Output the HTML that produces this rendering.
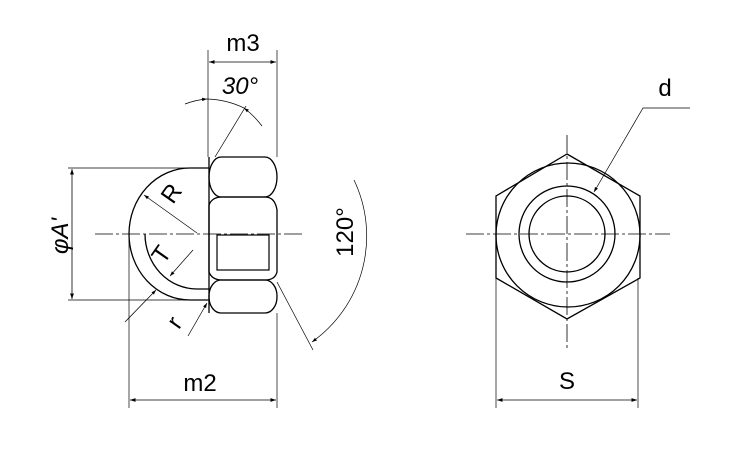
<!DOCTYPE html>
<html><head><style>html,body{margin:0;padding:0;background:#fff}svg{display:block}</style></head>
<body>
<svg width="750" height="450" viewBox="0 0 750 450" xmlns="http://www.w3.org/2000/svg" font-family="Liberation Sans, sans-serif">
<defs>
<marker id="a" viewBox="0 0 10 10" refX="10" refY="5" markerWidth="7" markerHeight="7" orient="auto-start-reverse"><path d="M0,1.5 L10,5 L0,8.5 Z" fill="#000"/></marker>
</defs>
<g fill="none" stroke="#000" stroke-width="1">
<line x1="95" y1="234" x2="302" y2="234" stroke-width="0.8" stroke-dasharray="18,3,3,3"/>
<rect x="209" y="157" width="68" height="40" rx="12" ry="20" stroke-width="1.3"/>
<path d="M209,205 Q212,197 222,197 L265,197 Q275,197 277,210 L277,272 Q275,280 265,280 L222,280 Q212,280 209,272 Z" stroke-width="1.3"/>
<rect x="209" y="280" width="68" height="33" rx="12" ry="16" stroke-width="1.3"/>
<line x1="209" y1="157" x2="209" y2="313" stroke-width="1.3"/>
<rect x="217" y="235" width="52" height="35" stroke-width="1.2"/>
<path d="M209,168 L190,168 A61,66 0 0 0 190,300 L209,300" stroke-width="1.3"/>
<path d="M145,234 A52,55 0 0 0 197,289 L209,289" stroke-width="1.3"/>
<line x1="68" y1="168" x2="190" y2="168" stroke-width="0.7"/>
<line x1="68" y1="300" x2="190" y2="300" stroke-width="0.7"/>
<line x1="72" y1="169" x2="72" y2="299" stroke-width="0.8" marker-start="url(#a)" marker-end="url(#a)"/>
<line x1="208" y1="50" x2="208" y2="157" stroke-width="0.7"/>
<line x1="277" y1="50" x2="277" y2="157" stroke-width="0.7"/>
<line x1="209" y1="62" x2="276" y2="62" stroke-width="0.8" marker-start="url(#a)" marker-end="url(#a)"/>
<line x1="129" y1="234" x2="129" y2="408" stroke-width="0.7"/>
<line x1="277" y1="313" x2="277" y2="408" stroke-width="0.7"/>
<line x1="130" y1="400" x2="276" y2="400" stroke-width="0.8" marker-start="url(#a)" marker-end="url(#a)"/>
<path d="M185,104 A80,80 0 0 1 207,99" stroke-width="0.7" marker-end="url(#a)"/>
<path d="M244,108 A90,90 0 0 1 262,126" stroke-width="0.7" marker-start="url(#a)"/>
<path d="M207,99 A90,90 0 0 1 244,108" stroke-width="0.7"/>
<line x1="215" y1="157" x2="246" y2="106" stroke-width="0.7"/>
<path d="M354,180 A130,130 0 0 1 312,342" stroke-width="0.7" marker-end="url(#a)"/>
<line x1="277" y1="282" x2="313" y2="350" stroke-width="0.7"/>
<line x1="197" y1="233" x2="144" y2="195" stroke-width="0.7" marker-end="url(#a)"/>
<line x1="193" y1="250" x2="170" y2="276" stroke-width="0.7" marker-end="url(#a)"/>
<line x1="125" y1="322" x2="156" y2="290" stroke-width="0.7" marker-end="url(#a)"/>
<line x1="188" y1="336" x2="207" y2="303" stroke-width="0.7" marker-end="url(#a)"/>

<line x1="466" y1="234" x2="670" y2="234" stroke-width="0.8" stroke-dasharray="18,3,3,3"/>
<line x1="567" y1="135" x2="567" y2="348" stroke-width="0.8" stroke-dasharray="18,3,3,3"/>
<polygon points="567,154 640,196 640,278 567,319 496,278 496,196" stroke-width="1.3"/>
<circle cx="568" cy="235" r="72" stroke-width="1.3"/>
<circle cx="567" cy="234" r="48" stroke-width="1.3"/>
<circle cx="567" cy="234" r="38" stroke-width="1.3"/>
<line x1="496" y1="278" x2="496" y2="408" stroke-width="0.7"/>
<line x1="638" y1="278" x2="638" y2="408" stroke-width="0.7"/>
<line x1="497" y1="400" x2="637" y2="400" stroke-width="0.8" marker-start="url(#a)" marker-end="url(#a)"/>
<polyline points="690,108 643,108 594,192" stroke-width="0.7" marker-end="url(#a)"/>
</g>
<g font-size="24" fill="#000">
<text x="243" y="51" text-anchor="middle">m3</text>
<text x="200" y="391" text-anchor="middle">m2</text>
<text x="567" y="389" text-anchor="middle">S</text>
<text x="665" y="96" text-anchor="middle">d</text>
<text x="240" y="94" text-anchor="middle" font-style="italic">30°</text>
<text transform="translate(353,232) rotate(-90)" text-anchor="middle">120°</text>
<text transform="translate(68,236) rotate(-90)" text-anchor="middle" font-style="italic">φA'</text>
<text transform="translate(178,198) rotate(-55)" text-anchor="middle">R</text>
<text transform="translate(168,259) rotate(-55)" text-anchor="middle">T</text>
<text transform="translate(181,327) rotate(-55)" text-anchor="middle">r</text>
</g>
</svg>
</body></html>
